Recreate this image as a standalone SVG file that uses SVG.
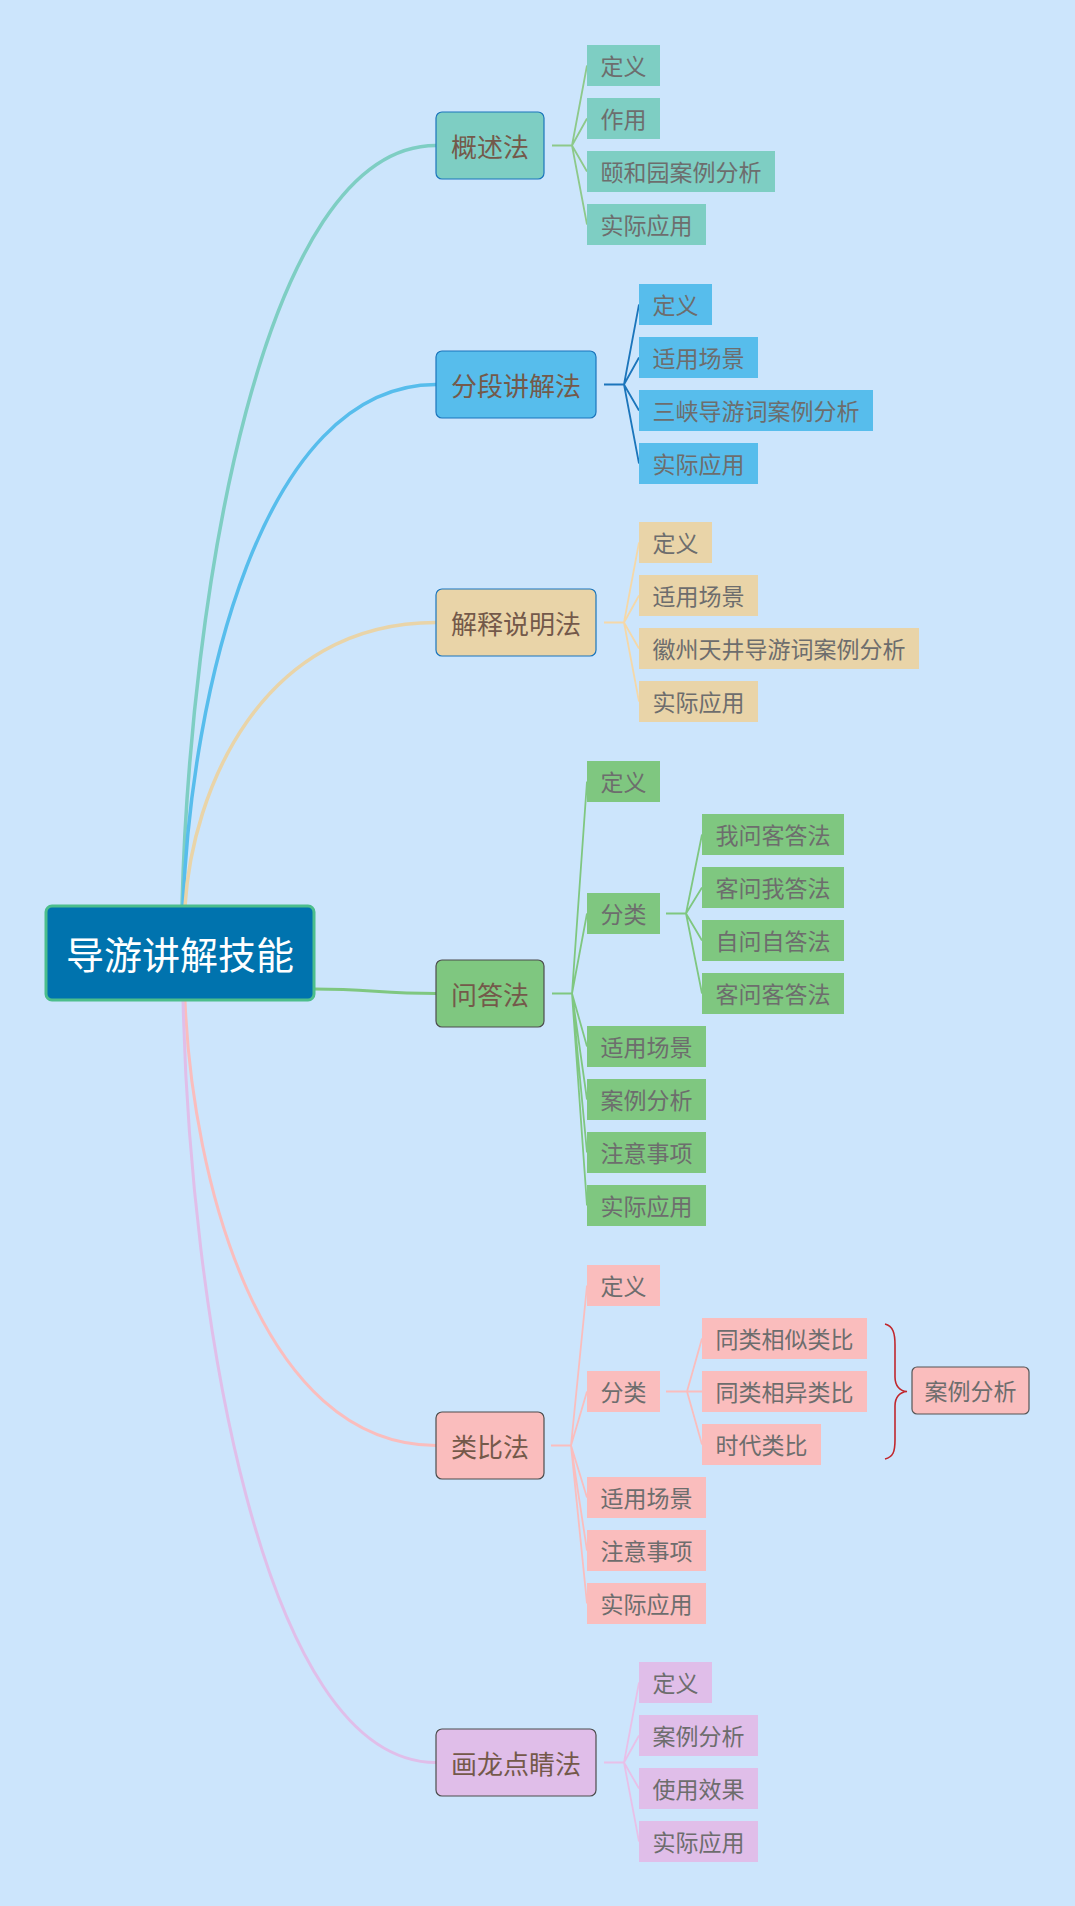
<svg xmlns="http://www.w3.org/2000/svg" width="1075" height="1906" viewBox="0 0 1075 1906">
<style>
text{font-family:"Noto Sans CJK SC","Noto Sans",sans-serif;}
.t1{font-size:26px;fill:#74594A;text-anchor:middle;}
.t2{font-size:23px;fill:#6D6D6D;text-anchor:middle;}
.main{fill:none;stroke-linecap:round;}
.c{fill:none;stroke-width:1.8;}
.l1b{stroke:#1B75BB;stroke-width:1.2;}
.l1g{stroke:#4D4D4D;stroke-width:1.2;}
</style>
<rect x="0" y="0" width="1075" height="1906" fill="#CCE5FC"/>
<g id="connectors">
  <path class="main" d="M182,906 C190,602 260,145.5 436,145.5" stroke="#7ECEC3" stroke-width="3.5"/>
  <path class="main" d="M183,906 C191,697 260,384.5 436,384.5" stroke="#57BDEC" stroke-width="3.5"/>
  <path class="main" d="M185,906 C192,792 260,622.5 436,622.5" stroke="#E9D4A8" stroke-width="3.5"/>
  <path class="main" d="M314,989 C370,989 380,993.5 436,993.5" stroke="#7FC780" stroke-width="3"/>
  <path class="main" d="M185,1000 C192,1178 260,1445.5 436,1445.5" stroke="#FABDBD" stroke-width="3"/>
  <path class="main" d="M183,1000 C190,1305 260,1762.5 436,1762.5" stroke="#E0BEE9" stroke-width="3"/>
  <path class="c" stroke="#8DC98A" d="M552,145.5 H572 M572,145.5 L587,65.5 M572,145.5 L587,118.5 M572,145.5 L587,171.5 M572,145.5 L587,224.5"/>
  <path class="c" stroke="#1B75BB" d="M604,384.5 H624 M624,384.5 L639,304.5 M624,384.5 L639,357.5 M624,384.5 L639,410.5 M624,384.5 L639,463.5"/>
  <path class="c" stroke="#F5D8A8" d="M604,622.5 H624 M624,622.5 L639,542.5 M624,622.5 L639,595.5 M624,622.5 L639,648.5 M624,622.5 L639,701.5"/>
  <path class="c" stroke="#7FC780" d="M552,993.5 H572 M572,993.5 L587,781.5 M572,993.5 L587,913.5 M572,993.5 L587,1046.5 M572,993.5 L587,1099.5 M572,993.5 L587,1152.5 M572,993.5 L587,1205.5"/>
  <path class="c" stroke="#7FC780" d="M666,913.5 H686 M686,913.5 L702,834.5 M686,913.5 L702,887.5 M686,913.5 L702,940.5 M686,913.5 L702,993.5"/>
  <path class="c" stroke="#FABDBD" d="M551,1445.5 H571 M571,1445.5 L587,1285.5 M571,1445.5 L587,1391.5 M571,1445.5 L587,1497.5 M571,1445.5 L587,1550.5 M571,1445.5 L587,1603.5"/>
  <path class="c" stroke="#FABDBD" d="M666,1391.5 H687 M687,1391.5 L702,1338.5 M687,1391.5 L702,1391.5 M687,1391.5 L702,1444.5"/>
  <path class="c" stroke="#E8C0E8" d="M604,1762.5 H624 M624,1762.5 L639,1682.5 M624,1762.5 L639,1735.5 M624,1762.5 L639,1788.5 M624,1762.5 L639,1841.5"/>
  <path fill="none" stroke="#C0272D" stroke-width="1.6" d="M885,1324 C893,1326 895,1333 895,1345 L895,1377 C895,1386 900,1391 907,1391.5 C900,1392 895,1397 895,1406 L895,1440 C895,1452 893,1457 885,1459"/>
</g>
<g id="root"><rect x="46" y="906" width="268" height="94" rx="6" fill="#0073AE" stroke="#4CBE8C" stroke-width="3"/><text x="180" y="969" font-size="38" fill="#FFFFFF" text-anchor="middle">导游讲解技能</text></g>

<g id="n1"><rect class="l1b" x="436" y="112" width="108" height="67" rx="6" fill="#7ECEC3"/><text class="t1" x="490" y="157">概述法</text></g>
<g id="n1a"><rect x="587" y="45" width="73" height="41" fill="#7ECEC3"/><text class="t2" x="623.5" y="75">定义</text></g>
<g id="n1b"><rect x="587" y="98" width="73" height="41" fill="#7ECEC3"/><text class="t2" x="623.5" y="128">作用</text></g>
<g id="n1c"><rect x="587" y="151" width="188" height="41" fill="#7ECEC3"/><text class="t2" x="681" y="181">颐和园案例分析</text></g>
<g id="n1d"><rect x="587" y="204" width="119" height="41" fill="#7ECEC3"/><text class="t2" x="646.5" y="234">实际应用</text></g>

<g id="n2"><rect class="l1b" x="436" y="351" width="160" height="67" rx="6" fill="#57BDEC"/><text class="t1" x="516" y="396">分段讲解法</text></g>
<g id="n2a"><rect x="639" y="284" width="73" height="41" fill="#57BDEC"/><text class="t2" x="675.5" y="314">定义</text></g>
<g id="n2b"><rect x="639" y="337" width="119" height="41" fill="#57BDEC"/><text class="t2" x="698.5" y="367">适用场景</text></g>
<g id="n2c"><rect x="639" y="390" width="234" height="41" fill="#57BDEC"/><text class="t2" x="756" y="420">三峡导游词案例分析</text></g>
<g id="n2d"><rect x="639" y="443" width="119" height="41" fill="#57BDEC"/><text class="t2" x="698.5" y="473">实际应用</text></g>

<g id="n3"><rect class="l1b" x="436" y="589" width="160" height="67" rx="6" fill="#E9D4A8"/><text class="t1" x="516" y="634">解释说明法</text></g>
<g id="n3a"><rect x="639" y="522" width="73" height="41" fill="#E9D4A8"/><text class="t2" x="675.5" y="552">定义</text></g>
<g id="n3b"><rect x="639" y="575" width="119" height="41" fill="#E9D4A8"/><text class="t2" x="698.5" y="605">适用场景</text></g>
<g id="n3c"><rect x="639" y="628" width="280" height="41" fill="#E9D4A8"/><text class="t2" x="779" y="658">徽州天井导游词案例分析</text></g>
<g id="n3d"><rect x="639" y="681" width="119" height="41" fill="#E9D4A8"/><text class="t2" x="698.5" y="711">实际应用</text></g>

<g id="n4"><rect class="l1g" x="436" y="960" width="108" height="67" rx="6" fill="#7FC780"/><text class="t1" x="490" y="1005">问答法</text></g>
<g id="n4a"><rect x="587" y="761" width="73" height="41" fill="#7FC780"/><text class="t2" x="623.5" y="791">定义</text></g>
<g id="n4b"><rect x="587" y="893" width="73" height="41" fill="#7FC780"/><text class="t2" x="623.5" y="923">分类</text></g>
<g id="n4b1"><rect x="702" y="814" width="142" height="41" fill="#7FC780"/><text class="t2" x="773" y="844">我问客答法</text></g>
<g id="n4b2"><rect x="702" y="867" width="142" height="41" fill="#7FC780"/><text class="t2" x="773" y="897">客问我答法</text></g>
<g id="n4b3"><rect x="702" y="920" width="142" height="41" fill="#7FC780"/><text class="t2" x="773" y="950">自问自答法</text></g>
<g id="n4b4"><rect x="702" y="973" width="142" height="41" fill="#7FC780"/><text class="t2" x="773" y="1003">客问客答法</text></g>
<g id="n4c"><rect x="587" y="1026" width="119" height="41" fill="#7FC780"/><text class="t2" x="646.5" y="1056">适用场景</text></g>
<g id="n4d"><rect x="587" y="1079" width="119" height="41" fill="#7FC780"/><text class="t2" x="646.5" y="1109">案例分析</text></g>
<g id="n4e"><rect x="587" y="1132" width="119" height="41" fill="#7FC780"/><text class="t2" x="646.5" y="1162">注意事项</text></g>
<g id="n4f"><rect x="587" y="1185" width="119" height="41" fill="#7FC780"/><text class="t2" x="646.5" y="1215">实际应用</text></g>

<g id="n5"><rect class="l1g" x="436" y="1412" width="108" height="67" rx="6" fill="#FABDBD"/><text class="t1" x="490" y="1457">类比法</text></g>
<g id="n5a"><rect x="587" y="1265" width="73" height="41" fill="#FABDBD"/><text class="t2" x="623.5" y="1295">定义</text></g>
<g id="n5b"><rect x="587" y="1371" width="73" height="41" fill="#FABDBD"/><text class="t2" x="623.5" y="1401">分类</text></g>
<g id="n5b1"><rect x="702" y="1318" width="165" height="41" fill="#FABDBD"/><text class="t2" x="784.5" y="1348">同类相似类比</text></g>
<g id="n5b2"><rect x="702" y="1371" width="165" height="41" fill="#FABDBD"/><text class="t2" x="784.5" y="1401">同类相异类比</text></g>
<g id="n5b3"><rect x="702" y="1424" width="119" height="41" fill="#FABDBD"/><text class="t2" x="761.5" y="1454">时代类比</text></g>
<g id="n5s"><rect x="912" y="1367" width="117" height="47" rx="5" fill="#FABDBD" stroke="#555555" stroke-width="1.2"/><text class="t2" x="970.5" y="1400">案例分析</text></g>
<g id="n5c"><rect x="587" y="1477" width="119" height="41" fill="#FABDBD"/><text class="t2" x="646.5" y="1507">适用场景</text></g>
<g id="n5d"><rect x="587" y="1530" width="119" height="41" fill="#FABDBD"/><text class="t2" x="646.5" y="1560">注意事项</text></g>
<g id="n5e"><rect x="587" y="1583" width="119" height="41" fill="#FABDBD"/><text class="t2" x="646.5" y="1613">实际应用</text></g>

<g id="n6"><rect class="l1g" x="436" y="1729" width="160" height="67" rx="6" fill="#E0BEE9"/><text class="t1" x="516" y="1774">画龙点睛法</text></g>
<g id="n6a"><rect x="639" y="1662" width="73" height="41" fill="#E0BEE9"/><text class="t2" x="675.5" y="1692">定义</text></g>
<g id="n6b"><rect x="639" y="1715" width="119" height="41" fill="#E0BEE9"/><text class="t2" x="698.5" y="1745">案例分析</text></g>
<g id="n6c"><rect x="639" y="1768" width="119" height="41" fill="#E0BEE9"/><text class="t2" x="698.5" y="1798">使用效果</text></g>
<g id="n6d"><rect x="639" y="1821" width="119" height="41" fill="#E0BEE9"/><text class="t2" x="698.5" y="1851">实际应用</text></g>
</svg>
